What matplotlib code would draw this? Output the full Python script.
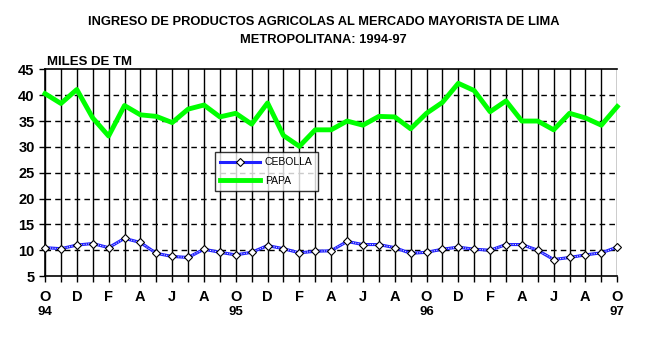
import numpy as np
import matplotlib
matplotlib.use("Agg")
import matplotlib.pyplot as plt
from matplotlib.lines import Line2D

plt.rcParams['font.family'] = ['Liberation Sans', 'DejaVu Sans']

# ── datos (miles de TM), oct-94 a oct-97 ─────────────────────────────────
month_labels = ["O", "D", "F", "A", "J", "A"] * 3 + ["O"]
year_labels = ["94", "95", "96", "97"]

papa = [40.3, 38.4, 41.1, 35.6, 32.1, 38.0, 36.2, 35.9, 34.7, 37.3,
        38.1, 35.8, 36.5, 34.4, 38.5, 32.2, 30.1, 33.3, 33.3, 35.0,
        34.2, 35.9, 35.8, 33.5, 36.5, 38.6, 42.3, 40.9, 36.8, 38.9,
        35.0, 35.0, 33.3, 36.5, 35.6, 34.2, 37.8]

cebolla = [10.5, 10.3, 11.0, 11.3, 10.5, 12.3, 11.5, 9.4, 8.8, 8.6,
           10.2, 9.6, 9.1, 9.6, 10.9, 10.3, 9.5, 9.8, 9.9, 11.7,
           11.1, 11.1, 10.5, 9.4, 9.6, 10.2, 10.6, 10.2, 10.0, 11.1,
           11.1, 10.0, 8.2, 8.6, 9.1, 9.5, 10.6]

x = np.arange(len(papa))

fig = plt.figure(figsize=(6.47, 3.40), dpi=100)
ax = fig.add_axes([0.0696, 0.188, 0.8844, 0.608])

# rejilla
for xi in x:
    ax.axvline(xi, color="black", lw=1.0, zorder=1)
for yv in range(10, 45, 5):
    ax.axhline(yv, color="black", lw=1.0, ls=(0, (4, 3)), zorder=1)

ax.plot(x, papa, color="#00ff00", lw=3.5, zorder=3, clip_on=False)
ax.plot(x, cebolla, color="#2020ff", lw=2.2, zorder=3)
ax.plot(x, cebolla, color="white", lw=0.7, ls=(0, (1, 1.5)), zorder=3)
ax.plot(x, cebolla, ls="none", marker="D", ms=4, mfc="white", mec="black",
        mew=0.8, zorder=4, clip_on=False)

ax.set_xlim(0, len(x) - 1)
ax.set_ylim(5, 45)
ax.set_yticks(range(5, 50, 5))
ax.set_yticklabels([str(v) for v in range(5, 50, 5)], fontsize=10.5,
                   fontweight="bold")
ax.set_xticks(x)
ax.set_xticklabels([])
ax.tick_params(axis="both", length=4, width=1, color="black")
for s in ax.spines.values():
    s.set_linewidth(1.2)
ax.spines["right"].set_visible(False)

# etiquetas del eje x
for i, lab in enumerate(month_labels):
    ax.text(2 * i, -0.065, lab, transform=ax.get_xaxis_transform(),
            ha="center", va="top", fontsize=10.5, fontweight="bold")
for i, lab in enumerate(year_labels):
    ax.text(12 * i, -0.145, lab, transform=ax.get_xaxis_transform(),
            ha="center", va="top", fontsize=9.5, fontweight="bold")

# leyenda
h_ceb = (Line2D([], [], color="#2020ff", lw=2.2),
         Line2D([], [], color="black", ls="none", marker="D", ms=4,
                mfc="white", mec="black", mew=0.8))
h_papa = Line2D([], [], color="#00ff00", lw=3.5)
leg = ax.legend([h_ceb, h_papa], ["CEBOLLA", "PAPA"], loc="upper left",
                bbox_to_anchor=(0.297, 0.6), frameon=True, fancybox=False,
                edgecolor="black", handlelength=3.8, handletextpad=0.5,
                borderpad=0.5, labelspacing=0.8, borderaxespad=0,
                prop={'size': 7.5})
leg.get_frame().set_linewidth(1.0)
leg.set_zorder(5)

fig.text(0.073, 0.818, "MILES DE TM", fontsize=9.5, fontweight="bold",
         ha="left", va="center")
fig.text(0.5, 0.935, "INGRESO DE PRODUCTOS AGRICOLAS AL MERCADO MAYORISTA DE LIMA",
         fontsize=9.3, fontweight="bold", ha="center", va="center")
fig.text(0.5, 0.882, "METROPOLITANA: 1994-97", fontsize=9.3,
         fontweight="bold", ha="center", va="center")

fig.savefig("out.png", dpi=100)
